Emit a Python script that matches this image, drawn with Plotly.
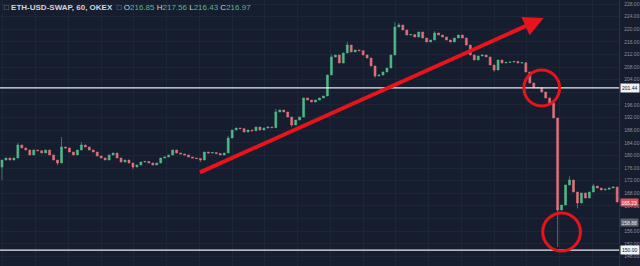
import plotly.graph_objects as go

# ---- data (hourly candles, ETH-USD-SWAP OKEX) ----
first_open = 176.3
closes = [
    178.55, 179.19, 178.55, 179.19, 183.31, 182.36, 181.72, 180.14, 181.72, 181.50,
    180.77, 181.72, 180.14, 178.55, 177.60, 182.68, 182.36, 181.09, 180.14, 181.72,
    183.31, 182.68, 181.72, 181.09, 179.82, 179.19, 178.55, 180.14, 180.77, 179.19,
    177.92, 178.55, 177.60, 176.34, 176.97, 177.92, 178.10, 177.60, 176.97, 177.60,
    179.19, 179.51, 180.14, 181.72, 180.77, 180.46, 180.14, 179.51, 179.19, 179.00,
    178.55, 181.09, 180.77, 180.90, 180.60, 180.14, 180.77, 185.53, 188.06, 188.70,
    188.50, 187.43, 188.06, 187.80, 189.01, 188.06, 188.70, 189.01, 188.80, 193.77,
    194.40, 193.77, 192.18, 189.65, 191.23, 192.18, 198.21, 197.57, 196.94, 197.57,
    198.21, 198.84, 205.50, 211.20, 211.84, 209.30, 212.47, 215.00, 212.79, 213.42,
    213.20, 211.84, 210.88, 208.35, 205.18, 205.50, 206.45, 207.71, 211.84, 220.71,
    221.34, 219.76, 218.17, 218.30, 217.54, 219.13, 217.22, 215.96, 216.59, 218.81,
    218.17, 217.54, 216.59, 215.96, 217.22, 218.17, 217.22, 215.00, 211.84, 210.25,
    211.52, 211.84, 211.20, 208.67, 207.08, 210.25, 209.30, 209.50, 209.62, 209.80,
    209.30, 209.40, 206.45, 202.96, 201.38, 201.50, 200.11, 198.21, 196.62, 191.87,
    162.71, 164.29, 170.63, 172.22, 168.41, 164.93, 168.10, 166.51, 168.41, 170.31,
    169.68, 169.05, 169.30, 169.68, 170.00, 165.23,
]
wick_highs = {4: 184.0, 15: 185.8, 20: 184.2, 33: 177.2, 57: 186.2, 69: 194.8,
              83: 212.0, 87: 216.0, 99: 222.3, 100: 222.0, 109: 219.4, 143: 173.4,
              149: 171.0}
wick_lows = {0: 172.2, 14: 176.9, 33: 175.6, 50: 177.9, 73: 189.0, 94: 204.6,
             124: 206.5, 140: 151.0, 145: 163.2}

level_lines = [201.44, 150.00]
y_ticks = [148 + 4 * k for k in range(21)]
hidden_ticks = [200, 160]   # covered by the price boxes in the screenshot
last_price = 165.23
marker_price = 158.88

# ---- build OHLC ----
idx = list(range(len(closes)))
opens = [first_open] + closes[:-1]
highs = [max(o, c) for o, c in zip(opens, closes)]
lows = [min(o, c) for o, c in zip(opens, closes)]
for k, v in wick_highs.items():
    highs[k] = max(highs[k], v)
for k, v in wick_lows.items():
    lows[k] = min(lows[k], v)

BG = "#151d2f"
GRID = "#1c2638"
GREEN = "#53b987"
RED = "#e0727a"
DOM = 624 / 640

fig = go.Figure()
fig.add_trace(go.Candlestick(
    x=idx, open=opens, high=highs, low=lows, close=closes,
    increasing=dict(line=dict(color=GREEN, width=0.6), fillcolor=GREEN),
    decreasing=dict(line=dict(color=RED, width=0.6), fillcolor=RED),
    whiskerwidth=0, showlegend=False, hoverinfo="skip",
))

fig.update_layout(
    width=640, height=266,
    margin=dict(l=0, r=0, t=0, b=0),
    paper_bgcolor=BG, plot_bgcolor=BG,
    font=dict(family="Liberation Sans, Arial, sans-serif"),
    xaxis=dict(domain=[0, DOM], range=[-0.5, 155.5], rangeslider=dict(visible=False),
               showticklabels=False, showgrid=True, gridcolor=GRID, gridwidth=1,
               tick0=0.25, dtick=8.25, zeroline=False, fixedrange=True),
    yaxis=dict(range=[144.96, 229.27], side="right", tickvals=y_ticks,
               ticktext=["" if v in hidden_ticks else f"{v:.2f}" for v in y_ticks],
               tickfont=dict(size=5, color="#8d929e"), ticks="",
               ticklabelstandoff=3,
               showgrid=True, gridcolor=GRID, gridwidth=1, zeroline=False,
               showline=True, linecolor="#2a3347", linewidth=1),
)

# horizontal levels
for lv in level_lines:
    fig.add_shape(type="line", xref="paper", x0=0, x1=DOM, yref="y", y0=lv, y1=lv,
                  line=dict(color="#e8ecf2", width=1.3))
    fig.add_annotation(xref="paper", x=DOM + 0.002, xanchor="left", yref="y", y=lv,
                       text=f"{lv:.2f}", showarrow=False, bgcolor="#f0f3f8",
                       font=dict(size=5, color="#131722"), borderpad=1)

fig.add_annotation(xref="paper", x=DOM + 0.002, xanchor="left", yref="y", y=last_price,
                   text=f"{last_price:.2f}", showarrow=False, bgcolor="#e0525d",
                   font=dict(size=5, color="#ffffff"), borderpad=0.5)
fig.add_annotation(xref="paper", x=DOM + 0.002, xanchor="left", yref="y", y=marker_price,
                   text=f"{marker_price:.2f}", showarrow=False, bgcolor="#5d6270",
                   font=dict(size=5, color="#e8e8e8"), borderpad=0.5)

# red trend arrow (drawn by the author of the screenshot)
fig.add_annotation(xref="x", yref="y", x=136.5, y=223.56, axref="x", ayref="y",
                   ax=49.5, ay=174.43, showarrow=True, arrowhead=2, arrowsize=1.0,
                   arrowwidth=4, arrowcolor="#e8141c", text="")
# red circles
fig.add_shape(type="circle", xref="x", yref="y", x0=131.5, x1=140.5, y0=195.67, y1=207.08,
              line=dict(color="#e8141c", width=3))
fig.add_shape(type="circle", xref="x", yref="y", x0=136.25, x1=145.75, y0=149.71, y1=161.76,
              line=dict(color="#e8141c", width=3))

# header
fig.add_annotation(
    xref="paper", yref="paper", x=0.003, y=0.995, xanchor="left", yanchor="top",
    showarrow=False, align="left",
    text=("<span style='color:#9aa0ab'>□</span> <b>ETH-USD-SWAP, 60, OKEX</b>  "
          "<span style='color:#9aa0ab'>□</span> "
          "O<span style='color:#53b987'>216.85</span> H<span style='color:#53b987'>217.56</span> "
          "L<span style='color:#53b987'>216.43</span> C<span style='color:#53b987'>216.97</span>"),
    font=dict(size=8, color="#d1d4dc"),
)

fig.write_html("out.html")
